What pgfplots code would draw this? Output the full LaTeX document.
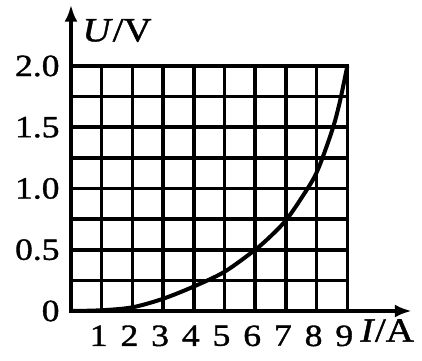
\documentclass[border=0pt]{standalone}
\usepackage{pgfplots}
\pgfplotsset{compat=1.18}
\usetikzlibrary{arrows.meta}
\usepackage{fontspec}
\setmainfont{Liberation Serif}[FakeStretch=1.15, FakeBold=1.2]
\begin{document}
\fontsize{31}{36}\selectfont
\begin{tikzpicture}
\begin{axis}[
  anchor=origin, at={(0,0)},
  x=30.7bp, y=122.5bp,
  xmin=0, xmax=9, ymin=0, ymax=2,
  axis line style={line width=3.6bp},
  grid=major, grid style={black, line width=3.6bp},
  xtick={1,...,9}, ytick={0,0.25,...,2},
  yticklabels={0,{},0.5,{},1.0,{},1.5,{},2.0},
  major tick length=0pt,
  tick label style={font=\fontsize{31}{36}\selectfont},
  xticklabel style={xshift=-3bp, yshift=-4bp},
  yticklabel style={xshift=-1bp},
  /pgf/number format/assume math mode=true,
  clip=false,
]
\addplot[black, line width=4bp, smooth] coordinates {
 (0,0) (1,0.006) (2,0.03) (3,0.1) (4,0.2) (5,0.32) (6,0.5) (6.5,0.61) (7,0.74) (7.5,0.92) (8,1.13) (8.5,1.47) (8.75,1.7) (9,2.0)
};
\draw[black, line width=3.6bp, -{Latex[length=17bp,width=13bp]}] (axis cs:0,0) -- (axis cs:11.1,0);
\draw[black, line width=3.6bp, -{Latex[length=17bp,width=13bp]}] (axis cs:0,0) -- (axis cs:0,2.5);
\node[font=\fontsize{34}{40}\selectfont] at (axis cs:1.5,2.29) {\textit{U}/V};
\node[font=\fontsize{34}{40}\selectfont, inner sep=0pt] at (axis cs:10.3,-0.16) {\textit{I}/A};
\end{axis}
\path (-71bp,-50bp) rectangle (351bp,311bp);
\end{tikzpicture}
\end{document}
